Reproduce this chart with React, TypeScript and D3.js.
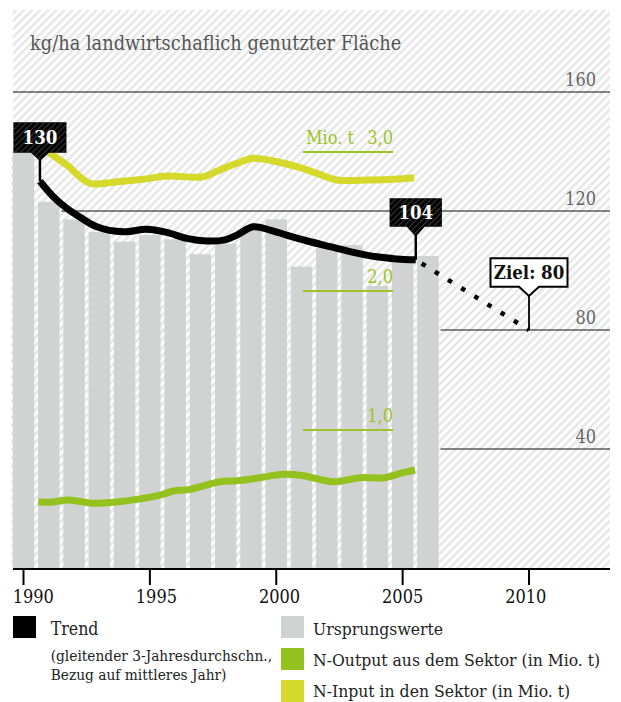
import React from 'react';
import * as d3 from 'd3';

const barYears = [1990, 1991, 1992, 1993, 1994, 1995, 1996, 1997, 1998, 1999, 2000, 2001, 2002, 2003, 2004, 2005, 2006];
const barValues = [140, 123.1, 117.2, 113.0, 109.7, 111.9, 110.5, 105.5, 109.0, 113.5, 117.2, 101.3, 107.5, 108.6, 94.8, 103.5, 104.9];

const trendYears = [1990.65, 1991.18, 1991.71, 1992.24, 1992.9, 1993.95, 1994.87, 1995.67, 1996.46, 1997.25, 1997.97, 1998.44, 1999.09, 1999.75, 2000.41, 2001.2, 2002.13, 2003.05, 2003.97, 2004.77, 2005.52];
const trendValues = [130, 124.8, 120.9, 117.9, 114.7, 113.0, 113.9, 112.8, 110.8, 109.9, 110.3, 111.9, 114.7, 113.6, 111.9, 110.0, 108.0, 106.1, 104.6, 103.9, 103.6];

const inputYears = [1990.65, 1990.98, 1991.71, 1992.63, 1993.69, 1994.74, 1995.67, 1997.11, 1997.77, 1998.44, 1999.09, 2000.02, 2000.81, 2001.6, 2002.39, 2003.71, 2004.63, 2005.46];
const inputValues = [3.05, 3.0, 2.906, 2.775, 2.786, 2.804, 2.827, 2.822, 2.871, 2.919, 2.955, 2.93, 2.894, 2.847, 2.799, 2.799, 2.804, 2.815];

const outputYears = [1990.59, 1991.05, 1991.77, 1992.76, 1993.55, 1994.48, 1995.4, 1995.93, 1996.59, 1997.77, 1998.44, 1999.23, 2000.28, 2001.07, 2002.26, 2003.31, 2004.3, 2004.9, 2005.49];
const outputValues = [0.484, 0.48, 0.496, 0.473, 0.48, 0.501, 0.532, 0.561, 0.573, 0.628, 0.635, 0.653, 0.681, 0.671, 0.628, 0.657, 0.657, 0.688, 0.712];

const yTicks = [40, 80, 120, 160];
const mioTicks = [1, 2, 3];
const mioTickLabels = ['1,0', '2,0', '3,0'];
const mioUnit = 'Mio. t';
const xTicks = [1990, 1995, 2000, 2005, 2010];
const targetYear = 2010;
const targetValue = 80;
const startLabel = '130';
const endLabel = '104';
const targetLabel = 'Ziel: 80';
const title = 'kg/ha landwirtschaflich genutzter Fläche';

const legendLeft = [
  { color: '#000', label: 'Trend', sub: ['(gleitender 3-Jahresdurchschn.,', 'Bezug auf mittleres Jahr)'] },
];
const legendRight = [
  { color: '#d1d2d2', label: 'Ursprungswerte' },
  { color: '#93c11d', label: 'N-Output aus dem Sektor (in Mio. t)' },
  { color: '#d4d92c', label: 'N-Input in den Sektor (in Mio. t)' },
];

const FONT = "'DejaVu Serif Condensed', 'DejaVu Serif', serif";
const BAR = '#d1d2d2';
const YELLOW = '#d4d92c';
const GREEN = '#93c11d';
const GREEN_TXT = '#9bc42b';

export default function App() {
  const W = 621, H = 702;
  const left = 13, right = 610, top = 10;
  const x = d3.scaleLinear().domain([1990, 2010]).range([23.5, 529]);
  const xLab = d3.scaleLinear().domain([1990, 2010]).range([33.3, 525.8]);
  const y = d3.scaleLinear().domain([0, 160]).range([568, 92]);
  const yM = d3.scaleLinear().domain([0, 3]).range([569, 152]);
  const base = 569;
  const step = x(1991) - x(1990);
  const barW = 21.5;

  const lineK = d3.line<[number, number]>().x(d => x(d[0])).y(d => y(d[1])).curve(d3.curveCatmullRom.alpha(0.5));
  const lineM = d3.line<[number, number]>().x(d => x(d[0])).y(d => yM(d[1])).curve(d3.curveCatmullRom.alpha(0.5));

  const trendPts = trendYears.map((t, i) => [t, trendValues[i]] as [number, number]);
  const inputPts = inputYears.map((t, i) => [t, inputValues[i]] as [number, number]);
  const outputPts = outputYears.map((t, i) => [t, outputValues[i]] as [number, number]);

  const sx = x(trendYears[0]), sy = y(trendValues[0]);
  const ex = x(trendYears[trendYears.length - 1]), ey = y(trendValues[trendValues.length - 1]);
  const tx = x(targetYear), ty = y(targetValue);

  const darkBox = (cx: number, by: number, w: number, h: number, label: string, tipY: number, endY: number) => {
    const x0 = cx - w / 2, y0 = by - h;
    const d = `M${x0},${y0}H${x0 + w}V${by}H${cx + 9}L${cx},${tipY}L${cx - 9},${by}H${x0}Z`;
    return (
      <g>
        <line x1={cx} x2={cx} y1={tipY - 2} y2={endY} stroke="#000" strokeWidth={2.5} />
        <path d={d} fill="#000" />
        <path d={d} fill="url(#darkHatch)" />
        <text x={cx} y={y0 + h / 2 + 6.5} textAnchor="middle" fill="#fff" fontWeight="bold" fontSize={18.5}>{label}</text>
      </g>
    );
  };

  return (
    <svg width={W} height={H} style={{ position: 'absolute', left: 0, top: 0 }} fontFamily={FONT}>
      <defs>
        <pattern id="hatch" patternUnits="userSpaceOnUse" width={5.7} height={5.7} patternTransform="rotate(45)">
          <rect width={5.7} height={5.7} fill="#fff" />
          <rect width={2.7} height={5.7} fill="#e8e8e8" />
        </pattern>
        <pattern id="darkHatch" patternUnits="userSpaceOnUse" width={4.2} height={4.2} patternTransform="rotate(45)">
          <rect width={1} height={4.2} fill="#3a3a3a" />
        </pattern>
      </defs>
      <rect x={0} y={0} width={W} height={H} fill="#fff" />
      <rect x={left} y={top} width={right - left} height={base - top} fill="url(#hatch)" />

      <text x={30} y={50} fontSize={19.8} fill="#555">{title}</text>

      {yTicks.map(v => (
        <g key={v}>
          <line x1={left} x2={right} y1={y(v)} y2={y(v)} stroke="#111" strokeWidth={1.2} />
          <text x={596} y={y(v) - 6.5} textAnchor="end" fontSize={18} fill="#666">{v}</text>
        </g>
      ))}

      {barYears.map((yr, i) => (
        <rect key={'u' + yr} x={x(yr) - step / 2} y={y(barValues[i])} width={step} height={y(0) - y(barValues[i]) + 1} fill="url(#hatch)" />
      ))}
      {barYears.map((yr, i) => (
        <rect key={'b' + yr} x={x(yr) - barW / 2} y={y(barValues[i])} width={barW} height={y(0) - y(barValues[i]) + 1} fill={BAR} />
      ))}

      {mioTicks.map((v, i) => (
        <g key={'m' + v}>
          <line x1={303} x2={393} y1={yM(v)} y2={yM(v)} stroke={GREEN_TXT} strokeWidth={1.8} />
          <text x={393} y={yM(v) - 8.5} textAnchor="end" fontSize={18} fill={GREEN_TXT}>{mioTickLabels[i]}</text>
          {i === mioTicks.length - 1 && (
            <text x={354} y={yM(v) - 8.5} textAnchor="end" fontSize={18} fill={GREEN_TXT}>{mioUnit}</text>
          )}
        </g>
      ))}

      <path d={lineM(inputPts) || ''} fill="none" stroke={YELLOW} strokeWidth={7} strokeLinejoin="round" />
      <path d={lineM(outputPts) || ''} fill="none" stroke={GREEN} strokeWidth={7} strokeLinejoin="round" />
      <path d={lineK(trendPts) || ''} fill="none" stroke="#000" strokeWidth={7} strokeLinejoin="round" />

      <line x1={ex} y1={ey} x2={tx} y2={ty} stroke="#000" strokeWidth={4.5} strokeDasharray="4.5 11" strokeDashoffset={-7} />

      {darkBox(sx, 152.7, 53, 30.4, startLabel, 161, sy)}
      {darkBox(ex, 226.7, 52.3, 28.4, endLabel, 236.7, ey)}

      <g>
        <line x1={tx} x2={tx} y1={295} y2={ty} stroke="#000" strokeWidth={1.8} />
        <path d={`M${tx - 38.5},258.3H${tx + 38.5}V286.7H${tx + 10}L${tx},296L${tx - 10},286.7H${tx - 38.5}Z`} fill="#fff" stroke="#000" strokeWidth={2} />
        <text x={tx} y={279} textAnchor="middle" fontSize={18.5} fontWeight="bold" fill="#111">{targetLabel}</text>
      </g>

      <line x1={left} x2={right} y1={base} y2={base} stroke="#000" strokeWidth={2} />
      {xTicks.map(t => (
        <g key={'x' + t}>
          <line x1={x(t)} x2={x(t)} y1={base} y2={585} stroke="#000" strokeWidth={2} />
          <text x={xLab(t)} y={602.7} textAnchor="middle" fontSize={18} fill="#111">{t}</text>
        </g>
      ))}

      {legendLeft.map(l => (
        <g key={l.label}>
          <rect x={13} y={616} width={23} height={22} fill={l.color} />
          <text x={50.7} y={634.5} fontSize={17.6} fill="#222">{l.label}</text>
          {l.sub.map((s, j) => (
            <text key={s} x={50.7} y={661 + j * 18.5} fontSize={15.3} fill="#222">{s}</text>
          ))}
        </g>
      ))}
      {legendRight.map((l, i) => (
        <g key={l.label}>
          <rect x={281} y={616 + i * 32} width={23} height={22} fill={l.color} />
          <text x={313} y={634.5 + i * 31} fontSize={17.4} fill="#222">{l.label}</text>
        </g>
      ))}
    </svg>
  );
}
